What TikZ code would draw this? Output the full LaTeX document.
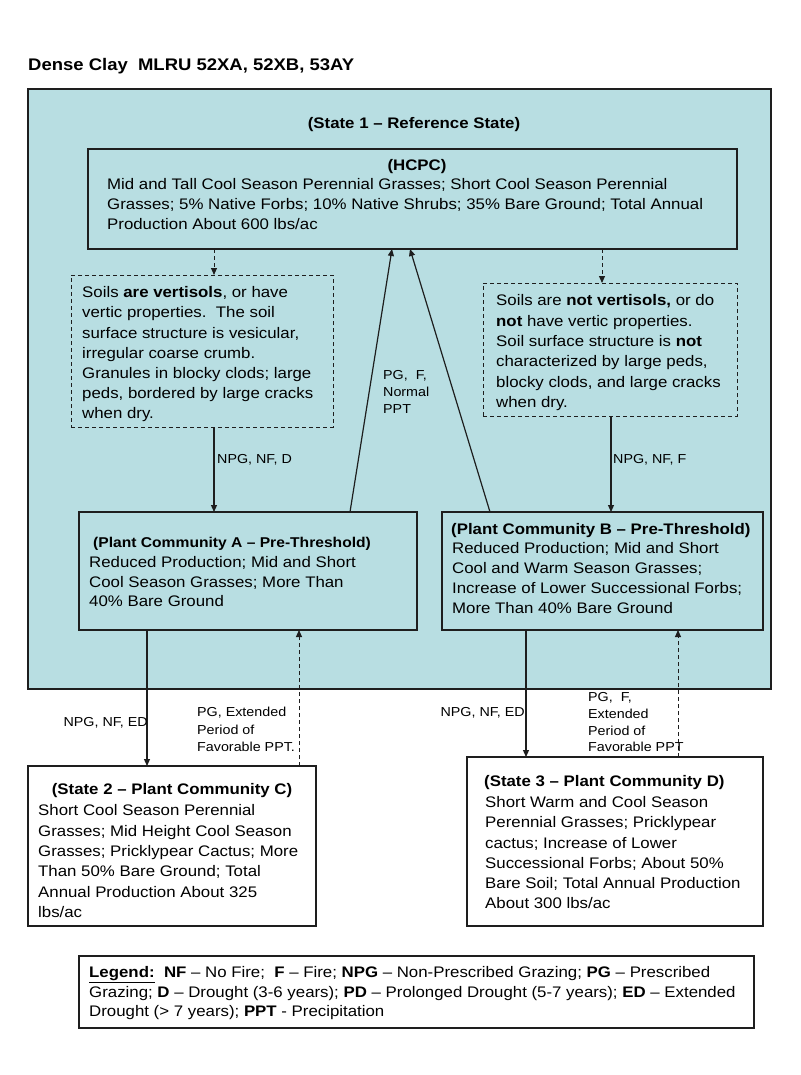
\documentclass[tikz,border=0pt]{standalone}
\usepackage{fontspec}
\setmainfont{Liberation Sans}[FakeStretch=1.1]
\usetikzlibrary{arrows.meta}
\definecolor{sblue}{RGB}{184,222,226}
\definecolor{lnc}{RGB}{30,30,30}
\newcommand\mystrut{\rule{0pt}{12pt}}
\newcommand\smstrut{\rule{0pt}{10pt}}
\begin{document}
\begin{tikzpicture}[x=1pt,y=-1pt,
  box/.style={draw=lnc,line width=1.3pt,anchor=north west,inner sep=0pt,outer sep=0pt},
  dbox/.style={box,line width=1pt,dash pattern=on 4pt off 3pt},
  body/.style={anchor=north west,inner sep=0pt,align=left,text=black},
  ttl/.style={inner sep=0pt,text=black,font=\bfseries\fontsize{15.3}{18}\selectfont},
  lbl/.style={anchor=north west,inner sep=0pt,align=left,text=black},
  arr/.style={draw=lnc,line width=1.2pt,-{Triangle[length=7pt,width=6pt]}},
  darr/.style={arr,line width=1pt,dash pattern=on 4pt off 3pt}]
\useasboundingbox[fill=white] (0,0) rectangle (800,1075);

% title
\node[anchor=base west,inner sep=0pt,font=\bfseries\fontsize{16.8}{20}\selectfont] (title) at (28,71) {Dense Clay\ \ MLRU 52XA, 52XB, 53AY};

% boxes
\node[box,fill=sblue,minimum width=743pt,minimum height=600pt] (state1) at (28,89) {};
\node[box,fill=sblue,minimum width=649pt,minimum height=100pt] (hcpc) at (88,149) {};
\node[dbox,fill=sblue,minimum width=262pt,minimum height=152pt] (dashL) at (71,275) {};
\node[dbox,fill=sblue,minimum width=254pt,minimum height=133pt] (dashR) at (483,283) {};
\node[box,fill=sblue,minimum width=338pt,minimum height=118pt] (pcA) at (79,512) {};
\node[box,fill=sblue,minimum width=321pt,minimum height=118pt] (pcB) at (442,512) {};
\node[box,fill=white,minimum width=288pt,minimum height=160pt] (st2) at (28,766) {};
\node[box,fill=white,minimum width=296pt,minimum height=169pt] (st3) at (467,757) {};
\node[box,fill=white,minimum width=675pt,minimum height=72pt] (legend) at (79,956) {};

% titles
\node[ttl,anchor=base] (s1t) at (414,128.6) {(State 1 – Reference State)};
\node[ttl,anchor=base] (hct) at (417,170.6) {(HCPC)};
\node[ttl,anchor=base west,font=\bfseries\fontsize{14.2}{17}\selectfont] (pcat) at (93,547.1) {(Plant Community A – Pre-Threshold)};
\node[ttl,anchor=base west] (pcbt) at (451,534.5) {(Plant Community B – Pre-Threshold)};
\node[ttl,anchor=base] (s2t) at (172,794.5) {(State 2 – Plant Community C)};
\node[ttl,anchor=base west] (s3t) at (484,786.5) {(State 3 – Plant Community D)};

% body texts
\node[body,font=\fontsize{15.3}{20}\selectfont] (hcpctxt) at (107,177.5)
 {\mystrut Mid and Tall Cool Season Perennial Grasses; Short Cool Season Perennial\\
  Grasses; 5\% Native Forbs; 10\% Native Shrubs; 35\% Bare Ground; Total Annual\\
  Production About 600 lbs/ac};
\node[body,font=\fontsize{15.3}{20.2}\selectfont] (dashLtxt) at (82,285.5)
 {\mystrut Soils \textbf{are vertisols}, or have\\
  vertic properties.\ \ The soil\\
  surface structure is vesicular,\\
  irregular coarse crumb.\\
  Granules in blocky clods; large\\
  peds, bordered by large cracks\\
  when dry.};
\node[body,font=\fontsize{15.3}{20.4}\selectfont] (dashRtxt) at (496,293.5)
 {\mystrut Soils are \textbf{not vertisols,} or do\\
  \textbf{not} have vertic properties.\\
  Soil surface structure is \textbf{not}\\
  characterized by large peds,\\
  blocky clods, and large cracks\\
  when dry.};
\node[body,font=\fontsize{15.3}{19.5}\selectfont] (pcAtxt) at (89,555.5)
 {\mystrut Reduced Production; Mid and Short\\
  Cool Season Grasses; More Than\\
  40\% Bare Ground};
\node[body,font=\fontsize{15.3}{20}\selectfont] (pcBtxt) at (452,541.5)
 {\mystrut Reduced Production; Mid and Short\\
  Cool and Warm Season Grasses;\\
  Increase of Lower Successional Forbs;\\
  More Than 40\% Bare Ground};
\node[body,font=\fontsize{15.3}{20.4}\selectfont] (st2txt) at (38,803.5)
 {\mystrut Short Cool Season Perennial\\
  Grasses; Mid Height Cool Season\\
  Grasses; Pricklypear Cactus; More\\
  Than 50\% Bare Ground; Total\\
  Annual Production About 325\\
  lbs/ac};
\node[body,font=\fontsize{15.3}{20.2}\selectfont] (st3txt) at (485,795.5)
 {\mystrut Short Warm and Cool Season\\
  Perennial Grasses; Pricklypear\\
  cactus; Increase of Lower\\
  Successional Forbs; About 50\%\\
  Bare Soil; Total Annual Production\\
  About 300 lbs/ac};
\node[body,font=\fontsize{15.3}{19.5}\selectfont] (legtxt) at (89,965.5)
 {\mystrut\textbf{\underline{Legend:}}\ \ \textbf{NF} – No Fire;\ \ \textbf{F} – Fire; \textbf{NPG} – Non-Prescribed Grazing; \textbf{PG} – Prescribed\\
  Grazing; \textbf{D} – Drought (3-6 years); \textbf{PD} – Prolonged Drought (5-7 years); \textbf{ED} – Extended\\
  Drought (> 7 years); \textbf{PPT} - Precipitation};

% connectors
\draw[darr] (214,0 |- hcpc.south) -- (214,0 |- dashL.north);
\draw[darr] (602,0 |- hcpc.south) -- (602,0 |- dashR.north);
\draw[arr] (214,0 |- dashL.south) -- (214,0 |- pcA.north);
\draw[arr] (611,0 |- dashR.south) -- (611,0 |- pcB.north);
\draw[arr] (350,0 |- pcA.north) -- (392,0 |- hcpc.south);
\draw[arr] (490,0 |- pcB.north) -- (410,0 |- hcpc.south);
\draw[arr] (147,0 |- pcA.south) -- (147,0 |- st2.north);
\draw[darr] (299,0 |- st2.north) -- (299,0 |- pcA.south);
\draw[arr] (526,0 |- pcB.south) -- (526,0 |- st3.north);
\draw[darr] (678,0 |- st3.north) -- (678,0 |- pcB.south);

% connector labels
\node[lbl,font=\fontsize{13}{17}\selectfont] (l1) at (217,453.6) {\smstrut NPG, NF, D};
\node[lbl,font=\fontsize{13}{17}\selectfont] (l2) at (613,453.6) {\smstrut NPG, NF, F};
\node[lbl,font=\fontsize{13}{16.7}\selectfont] (l3) at (383,369.6) {\smstrut PG,\ \ F,\\Normal\\PPT};
\node[lbl,anchor=north east,font=\fontsize{13}{17}\selectfont] (l4) at (148,716.6) {\smstrut NPG, NF, ED};
\node[lbl,font=\fontsize{13}{17.5}\selectfont] (l5) at (197,706.6) {\smstrut PG, Extended\\Period of\\Favorable PPT.};
\node[lbl,anchor=north east,font=\fontsize{13}{17}\selectfont] (l6) at (525,706.6) {\smstrut NPG, NF, ED};
\node[lbl,font=\fontsize{13}{16.7}\selectfont] (l7) at (588,691.6) {\smstrut PG,\ \ F,\\Extended\\Period of\\Favorable PPT};
\end{tikzpicture}
\end{document}
